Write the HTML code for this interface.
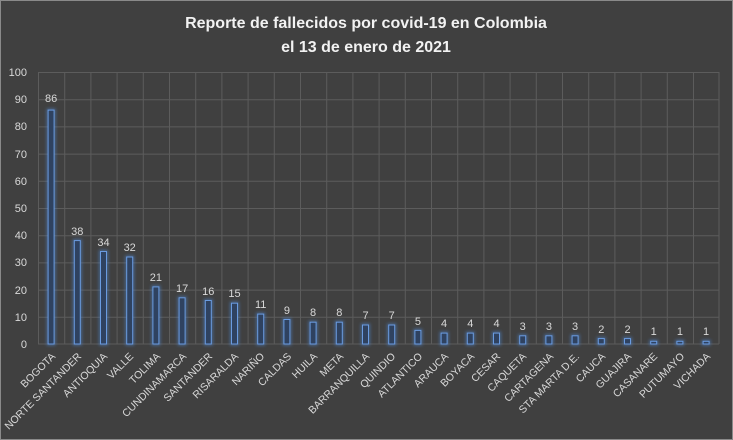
<!DOCTYPE html><html><head><style>body{margin:0;background:#404040}svg{display:block;font-family:"Liberation Sans",sans-serif}</style></head><body>
<svg width="733" height="440" viewBox="0 0 733 440">
<defs><filter id="g" x="-1" y="-1" width="3" height="3"><feGaussianBlur stdDeviation="1.5"/></filter></defs>
<rect x="0.5" y="0.5" width="732" height="439" fill="#404040" stroke="#8a8a8a"/>
<text x="366" y="28" text-anchor="middle" fill="#f2f2f2" font-size="16" font-weight="bold">Reporte de fallecidos por covid-19 en Colombia</text>
<text x="366" y="52" text-anchor="middle" fill="#f2f2f2" font-size="16" font-weight="bold">el 13 de enero de 2021</text>
<g stroke="#5c5c5c" stroke-width="1">
<path d="M38 72.5H719M38 99.7H719M38 126.9H719M38 154.1H719M38 181.3H719M38 208.5H719M38 235.7H719M38 262.9H719M38 290.1H719M38 317.3H719M38 344H719"/>
<path d="M38.5 72V344M64.7 72V344M90.9 72V344M117.1 72V344M143.3 72V344M169.5 72V344M195.7 72V344M221.9 72V344M248.1 72V344M274.3 72V344M300.5 72V344M326.7 72V344M352.9 72V344M379.1 72V344M405.3 72V344M431.5 72V344M457.7 72V344M483.9 72V344M510.1 72V344M536.3 72V344M562.5 72V344M588.7 72V344M614.9 72V344M641.1 72V344M667.3 72V344M693.5 72V344M719 72V344"/>
</g>
<g fill="#d9d9d9" font-size="11" text-anchor="end">
<text x="27" y="76">100</text><text x="27" y="103">90</text><text x="27" y="130">80</text><text x="27" y="158">70</text><text x="27" y="185">60</text><text x="27" y="212">50</text><text x="27" y="239">40</text><text x="27" y="266">30</text><text x="27" y="294">20</text><text x="27" y="321">10</text><text x="27" y="348">0</text>
</g>
<g>
<g stroke="#4f86d0" stroke-width="3" fill="none" filter="url(#g)" opacity="0.6">
<rect x="48.1" y="110.1" width="6" height="233.9"/><rect x="74.3" y="240.6" width="6" height="103.4"/><rect x="100.5" y="251.5" width="6" height="92.5"/><rect x="126.7" y="257" width="6" height="87"/><rect x="152.9" y="286.9" width="6" height="57.1"/><rect x="179.1" y="297.8" width="6" height="46.2"/><rect x="205.3" y="300.5" width="6" height="43.5"/><rect x="231.5" y="303.2" width="6" height="40.8"/><rect x="257.7" y="314.1" width="6" height="29.9"/><rect x="283.9" y="319.5" width="6" height="24.5"/><rect x="310.1" y="322.2" width="6" height="21.8"/><rect x="336.3" y="322.2" width="6" height="21.8"/><rect x="362.5" y="325" width="6" height="19"/><rect x="388.7" y="325" width="6" height="19"/><rect x="414.9" y="330.4" width="6" height="13.6"/><rect x="441.1" y="333.1" width="6" height="10.9"/><rect x="467.3" y="333.1" width="6" height="10.9"/><rect x="493.5" y="333.1" width="6" height="10.9"/><rect x="519.7" y="335.8" width="6" height="8.2"/><rect x="545.9" y="335.8" width="6" height="8.2"/><rect x="572.1" y="335.8" width="6" height="8.2"/><rect x="598.3" y="338.6" width="6" height="5.4"/><rect x="624.5" y="338.6" width="6" height="5.4"/><rect x="650.7" y="341.3" width="6" height="2.7"/><rect x="676.9" y="341.3" width="6" height="2.7"/><rect x="703.1" y="341.3" width="6" height="2.7"/>
</g>
<g stroke="#6a9be0" stroke-width="1" fill="#2f4260">
<rect x="48.1" y="110.1" width="6" height="233.9"/><rect x="74.3" y="240.6" width="6" height="103.4"/><rect x="100.5" y="251.5" width="6" height="92.5"/><rect x="126.7" y="257" width="6" height="87"/><rect x="152.9" y="286.9" width="6" height="57.1"/><rect x="179.1" y="297.8" width="6" height="46.2"/><rect x="205.3" y="300.5" width="6" height="43.5"/><rect x="231.5" y="303.2" width="6" height="40.8"/><rect x="257.7" y="314.1" width="6" height="29.9"/><rect x="283.9" y="319.5" width="6" height="24.5"/><rect x="310.1" y="322.2" width="6" height="21.8"/><rect x="336.3" y="322.2" width="6" height="21.8"/><rect x="362.5" y="325" width="6" height="19"/><rect x="388.7" y="325" width="6" height="19"/><rect x="414.9" y="330.4" width="6" height="13.6"/><rect x="441.1" y="333.1" width="6" height="10.9"/><rect x="467.3" y="333.1" width="6" height="10.9"/><rect x="493.5" y="333.1" width="6" height="10.9"/><rect x="519.7" y="335.8" width="6" height="8.2"/><rect x="545.9" y="335.8" width="6" height="8.2"/><rect x="572.1" y="335.8" width="6" height="8.2"/><rect x="598.3" y="338.6" width="6" height="5.4"/><rect x="624.5" y="338.6" width="6" height="5.4"/><rect x="650.7" y="341.3" width="6" height="2.7"/><rect x="676.9" y="341.3" width="6" height="2.7"/><rect x="703.1" y="341.3" width="6" height="2.7"/>
</g></g>
<g fill="#d9d9d9" font-size="11" text-anchor="middle">
<text x="51.1" y="102">86</text><text x="77.3" y="235">38</text><text x="103.5" y="246">34</text><text x="129.7" y="251">32</text><text x="155.9" y="281">21</text><text x="182.1" y="292">17</text><text x="208.3" y="295">16</text><text x="234.5" y="297">15</text><text x="260.7" y="308">11</text><text x="286.9" y="314">9</text><text x="313.1" y="316">8</text><text x="339.3" y="316">8</text><text x="365.5" y="319">7</text><text x="391.7" y="319">7</text><text x="417.9" y="325">5</text><text x="444.1" y="327">4</text><text x="470.3" y="327">4</text><text x="496.5" y="327">4</text><text x="522.7" y="330">3</text><text x="548.9" y="330">3</text><text x="575.1" y="330">3</text><text x="601.3" y="333">2</text><text x="627.5" y="333">2</text><text x="653.7" y="335">1</text><text x="679.9" y="335">1</text><text x="706.1" y="335">1</text>
</g>
<g fill="#d9d9d9" font-size="10.5" text-anchor="end">
<text transform="translate(56,357) rotate(-45)">BOGOTA</text>
<text transform="translate(82,357) rotate(-45)">NORTE SANTANDER</text>
<text transform="translate(108,357) rotate(-45)">ANTIOQUIA</text>
<text transform="translate(134,357) rotate(-45)">VALLE</text>
<text transform="translate(161,357) rotate(-45)">TOLIMA</text>
<text transform="translate(187,357) rotate(-45)">CUNDINAMARCA</text>
<text transform="translate(213,357) rotate(-45)">SANTANDER</text>
<text transform="translate(239,357) rotate(-45)">RISARALDA</text>
<text transform="translate(265,357) rotate(-45)">NARIÑO</text>
<text transform="translate(292,357) rotate(-45)">CALDAS</text>
<text transform="translate(318,357) rotate(-45)">HUILA</text>
<text transform="translate(344,357) rotate(-45)">META</text>
<text transform="translate(370,357) rotate(-45)">BARRANQUILLA</text>
<text transform="translate(396,357) rotate(-45)">QUINDIO</text>
<text transform="translate(423,357) rotate(-45)">ATLANTICO</text>
<text transform="translate(449,357) rotate(-45)">ARAUCA</text>
<text transform="translate(475,357) rotate(-45)">BOYACA</text>
<text transform="translate(501,357) rotate(-45)">CESAR</text>
<text transform="translate(527,357) rotate(-45)">CAQUETA</text>
<text transform="translate(554,357) rotate(-45)">CARTAGENA</text>
<text transform="translate(580,357) rotate(-45)">STA MARTA D.E.</text>
<text transform="translate(606,357) rotate(-45)">CAUCA</text>
<text transform="translate(632,357) rotate(-45)">GUAJIRA</text>
<text transform="translate(658,357) rotate(-45)">CASANARE</text>
<text transform="translate(685,357) rotate(-45)">PUTUMAYO</text>
<text transform="translate(711,357) rotate(-45)">VICHADA</text>
</g>
</svg>
</body></html>
